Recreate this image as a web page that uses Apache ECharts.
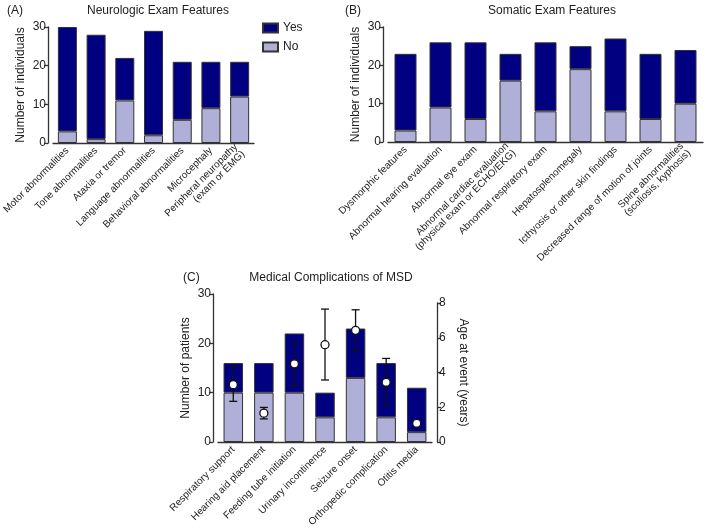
<!DOCTYPE html>
<html>
<head>
<meta charset="utf-8">
<title>MSD exam features</title>
<script src="https://cdn.jsdelivr.net/npm/echarts@6/dist/echarts.min.js"></script>
<style>
    html, body { margin: 0; padding: 0; background: #fff; }
    #chart { width: 709px; height: 531px; }
</style>
</head>
<body>
<div id="chart"></div>
<script>
// (A) neurologic exam
var neuroNames = ['Motor abnormalities', 'Tone abnormalities', 'Ataxia or tremor', 'Language abnormalities',
    'Behavioral abnormalities', 'Microcephaly', 'Peripheral neuropathy\n(exam or EMG)'];
var neuroYes = [27, 27, 11, 27, 15, 12, 9];
var neuroNo = [3, 1, 11, 2, 6, 9, 12];

// (B) somatic exam
var somaticNames = ['Dysmorphic features', 'Abnormal hearing evaluation', 'Abnormal eye exam',
    'Abnormal cardiac evaluation\n(physical exam or ECHO/EKG)', 'Abnormal respiratory exam', 'Hepatosplenomegaly',
    'Icthyosis or other skin findings', 'Decreased range of motion of joints', 'Spine abnormalities\n(scoliosis, kyphosis)'];
var somaticYes = [20, 17, 20, 7, 18, 6, 19, 17, 14];
var somaticNo = [3, 9, 6, 16, 8, 19, 8, 6, 10];

// (C) medical complications
var complNames = ['Respiratory support', 'Hearing aid placement', 'Feeding tube initiation', 'Urinary incontinence',
    'Seizure onset', 'Orthopedic complication', 'Otitis media'];
var complYes = [6, 6, 12, 5, 10, 11, 9];
var complNo = [10, 10, 10, 5, 13, 5, 2];
// age at event (years): mean, lower and upper end of error bar
var ageMean = [3.30, 1.66, 4.50, 5.60, 6.43, 3.44, 1.08];
var ageLow = [2.34, 1.33, 3.25, 3.57, 5.24, 2.09, null];
var ageHigh = [4.33, 1.99, 5.78, 7.65, 7.61, 4.81, null];

var countTicks = [0, 10, 20, 30];
var ageTicks = [0, 2, 4, 6, 8];

var DARK = '#000080';
var LIGHT = '#afafd8';
var INK = '#333333';
var FONT = 'Liberation Sans, Arial, sans-serif';

var myChart = echarts.init(document.getElementById('chart'));

function catAxis(gridIndex, names, show) {
    return {
        type: 'category',
        gridIndex: gridIndex,
        data: names,
        show: show,
        axisLine: { lineStyle: { color: INK, width: 1.3 } },
        axisTick: { alignWithLabel: true, length: 4, lineStyle: { color: INK, width: 1.3 } },
        axisLabel: { interval: 0, rotate: 45, margin: 6, fontSize: 10, color: '#222', fontFamily: FONT }
    };
}

function valAxis(gridIndex, ticks, name, pos, nameGap) {
    return {
        type: 'value',
        gridIndex: gridIndex,
        position: pos,
        offset: 5,
        min: ticks[0],
        max: ticks[ticks.length - 1],
        interval: ticks[1] - ticks[0],
        name: name,
        nameLocation: 'middle',
        nameRotate: pos === 'left' ? 90 : -90,
        nameGap: nameGap,
        nameTextStyle: { fontSize: 12, color: '#222', fontFamily: FONT },
        axisLine: { show: true, lineStyle: { color: INK, width: 1.3 } },
        axisTick: { show: true, length: 4, lineStyle: { color: INK, width: 1.3 } },
        axisLabel: { margin: 2, fontSize: 12, color: '#222', fontFamily: FONT },
        splitLine: { show: false }
    };
}

function stackBars(name, data, color, axisIndex, width, stack) {
    return {
        name: name,
        type: 'bar',
        stack: stack,
        xAxisIndex: axisIndex,
        yAxisIndex: axisIndex,
        data: data,
        barWidth: width,
        z: 2,
        itemStyle: { color: color, borderColor: INK, borderWidth: 1 },
        emphasis: { disabled: true }
    };
}

function titleAt(text, left, top, align) {
    return {
        text: text,
        left: left,
        top: top,
        textAlign: align,
        textStyle: { fontSize: 12, fontWeight: 'normal', color: '#222', fontFamily: FONT }
    };
}

var errData = [];
ageMean.map(function (m, i) {
    if (ageLow[i] !== null) errData.push([i, ageLow[i], ageHigh[i]]);
});

var option = {
    animation: false,
    title: [
        titleAt('(A)', 2, 0, 'left'),
        titleAt('Neurologic Exam Features', 153, 0, 'center'),
        titleAt('(B)', 340, 0, 'left'),
        titleAt('Somatic Exam Features', 547, 0, 'center'),
        titleAt('(C)', 178, 267, 'left'),
        titleAt('Medical Complications of MSD', 326, 267, 'center')
    ],
    legend: {
        data: ['Yes', 'No'],
        orient: 'vertical',
        left: 257,
        top: 17,
        itemWidth: 15,
        itemHeight: 9,
        itemGap: 7,
        icon: 'rect',
        textStyle: { fontSize: 12, color: '#222', fontFamily: FONT }
    },
    grid: [
        { left: 48, top: 27, width: 206, height: 116 },
        { left: 388, top: 27, width: 315, height: 115 },
        { left: 218, top: 294, width: 214, height: 148 },
        { left: 218, top: 303, width: 214, height: 139 }
    ],
    xAxis: [
        catAxis(0, neuroNames, true),
        catAxis(1, somaticNames, true),
        catAxis(2, complNames, true),
        catAxis(3, complNames, false)
    ],
    yAxis: [
        valAxis(0, countTicks, 'Number of individuals', 'left', 21),
        valAxis(1, countTicks, 'Number of individuals', 'left', 21),
        valAxis(2, countTicks, 'Number of patients', 'left', 21),
        valAxis(3, ageTicks, 'Age at event (years)', 'right', 20)
    ],
    series: [
        stackBars('No', neuroNo, LIGHT, 0, 19, 'a'),
        stackBars('Yes', neuroYes, DARK, 0, 19, 'a'),
        stackBars('No B', somaticNo, LIGHT, 1, 22, 'b'),
        stackBars('Yes B', somaticYes, DARK, 1, 22, 'b'),
        stackBars('No C', complNo, LIGHT, 2, 19.5, 'c'),
        stackBars('Yes C', complYes, DARK, 2, 19.5, 'c'),
        {
            // error bars for age at event, drawn above the bars
            type: 'custom',
            xAxisIndex: 3,
            yAxisIndex: 3,
            z: 5,
            data: errData,
            renderItem: function (params, api) {
                var top = api.coord([api.value(0), api.value(2)]);
                var bot = api.coord([api.value(0), api.value(1)]);
                var style = { stroke: '#111', lineWidth: 1.3 };
                return {
                    type: 'group',
                    children: [
                        { type: 'line', shape: { x1: top[0], y1: top[1], x2: bot[0], y2: bot[1] }, style: style },
                        { type: 'line', shape: { x1: top[0] - 4, y1: top[1], x2: top[0] + 4, y2: top[1] }, style: style },
                        { type: 'line', shape: { x1: bot[0] - 4, y1: bot[1], x2: bot[0] + 4, y2: bot[1] }, style: style }
                    ]
                };
            }
        },
        {
            type: 'scatter',
            xAxisIndex: 3,
            yAxisIndex: 3,
            z: 6,
            data: ageMean,
            symbol: 'circle',
            symbolSize: 8,
            itemStyle: { color: '#fff', borderColor: '#111', borderWidth: 1.3, opacity: 1 },
            emphasis: { disabled: true }
        }
    ]
};

myChart.setOption(option);
</script>
</body>
</html>
